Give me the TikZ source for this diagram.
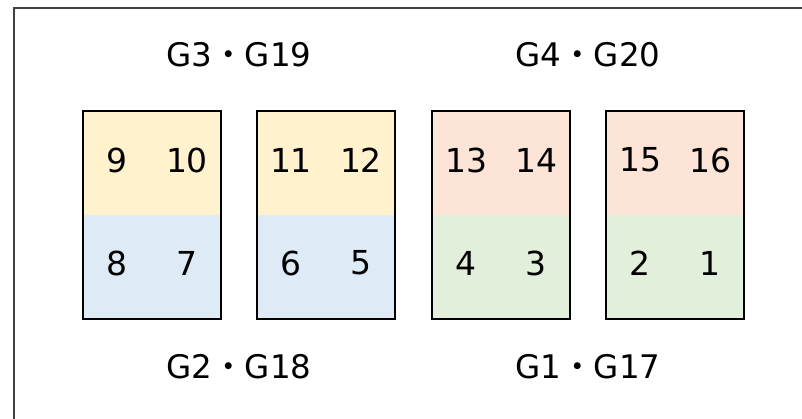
\documentclass[tikz,border=0pt]{standalone}
\usepackage{fontspec}
\setmainfont{DejaVu Sans}
\newfontfamily\cjk{Noto Sans CJK JP}
\definecolor{upyellow}{HTML}{FFF2CC}
\definecolor{lowblue}{HTML}{DEEBF7}
\definecolor{uppink}{HTML}{FCE4D6}
\definecolor{lowgreen}{HTML}{E2EFDA}
\tikzset{
    page/.style={draw=black, line width=1.3pt},
    num/.style={font=\fontsize{33}{33}\selectfont, inner sep=0pt},
    grouplabel/.style={font=\fontsize{32.5}{33}\selectfont, inner sep=0pt}
}
\begin{document}
\begin{tikzpicture}[x=1pt,y=1pt]
        \useasboundingbox (0,0) rectangle (802,419);
        % outer frame, only left and top edges fall inside
        \draw[line width=1.5pt, black!75] (14,0) -- (14,411) -- (802,411);
        % sheets
        \foreach \x/\top/\low/\a/\b/\c/\d [count=\i] in
            {83/upyellow/lowblue/9/10/8/7,
             257/upyellow/lowblue/11/12/6/5,
             432/uppink/lowgreen/13/14/4/3,
             606/uppink/lowgreen/15/16/2/1} {
            \fill[\top] (\x,204) rectangle ++(138,104);
            \fill[\low] (\x,100) rectangle ++(138,104);
            \draw[page] (\x,100) rectangle ++(138,208);
            \node[num] (n\a) at (\x+34,259) {\a};
            \node[num] (n\b) at (\x+104,259) {\b};
            \node[num] (n\c) at (\x+34,156) {\c};
            \node[num] (n\d) at (\x+104,156) {\d};
        }
        \node[grouplabel] (g3) at (239,364) {G3{\cjk ・}G19};
        \node[grouplabel] (g4) at (588,364) {G4{\cjk ・}G20};
        \node[grouplabel] (g2) at (239,52) {G2{\cjk ・}G18};
        \node[grouplabel] (g1) at (588,52) {G1{\cjk ・}G17};
    \end{tikzpicture}
\end{document}
